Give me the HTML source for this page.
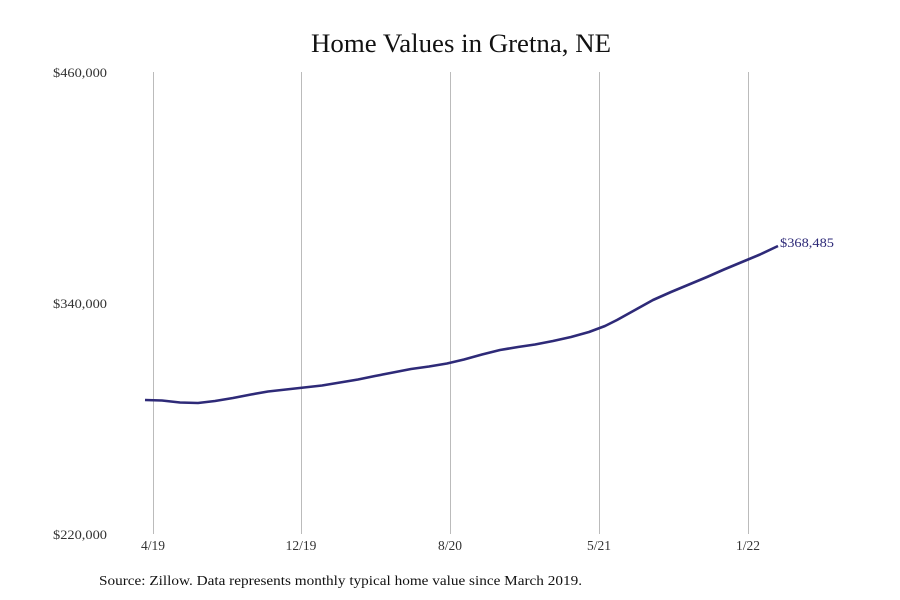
<!DOCTYPE html>
<html><head><meta charset="utf-8"><style>
body{margin:0;background:#fff;}
svg{display:block;font-family:"Liberation Serif",serif;}
</style></head><body>
<svg width="900" height="600" viewBox="0 0 900 600">
<rect width="900" height="600" fill="#fff"/>
<text x="311" y="52" font-size="26" textLength="300" lengthAdjust="spacingAndGlyphs" fill="#111">Home Values in Gretna, NE</text>
<g fill="#333" font-size="13">
<text x="53" y="77" textLength="54" lengthAdjust="spacingAndGlyphs">$460,000</text>
<text x="53" y="308" textLength="54" lengthAdjust="spacingAndGlyphs">$340,000</text>
<text x="53" y="539" textLength="54" lengthAdjust="spacingAndGlyphs">$220,000</text>
</g>
<g stroke="#bbb" stroke-width="1">
<line x1="153.5" y1="72" x2="153.5" y2="534"/>
<line x1="301.5" y1="72" x2="301.5" y2="534"/>
<line x1="450.5" y1="72" x2="450.5" y2="534"/>
<line x1="599.5" y1="72" x2="599.5" y2="534"/>
<line x1="748.5" y1="72" x2="748.5" y2="534"/>
</g>
<g fill="#333" font-size="13.5" text-anchor="middle">
<text x="153" y="550">4/19</text>
<text x="301" y="550">12/19</text>
<text x="450" y="550">8/20</text>
<text x="599" y="550">5/21</text>
<text x="748" y="550">1/22</text>
</g>
<polyline fill="none" stroke="#2e2a78" stroke-width="2.6" stroke-linejoin="round" points="145,400 162,400.5 180,402.5 198,403 215,401 233,398 251,394.5 268,391.5 286,389.5 304,387.5 322,385.5 340,382.5 358,379.5 375,376 393,372.5 411,369 429,366.5 447,363.5 464,359.5 482,354.5 500,350 518,347 535,344.5 553,341 571,337 589,332 605,326 617,320 635,310 653,300 671,292 689,284.5 707,277 724,269.5 742,262 760,254.5 778,246"/>
<text x="780" y="247" font-size="13" textLength="54" lengthAdjust="spacingAndGlyphs" fill="#2e2a78">$368,485</text>
<text x="99" y="585" font-size="14" textLength="483" lengthAdjust="spacingAndGlyphs" fill="#111">Source: Zillow. Data represents monthly typical home value since March 2019.</text>
</svg>
</body></html>
